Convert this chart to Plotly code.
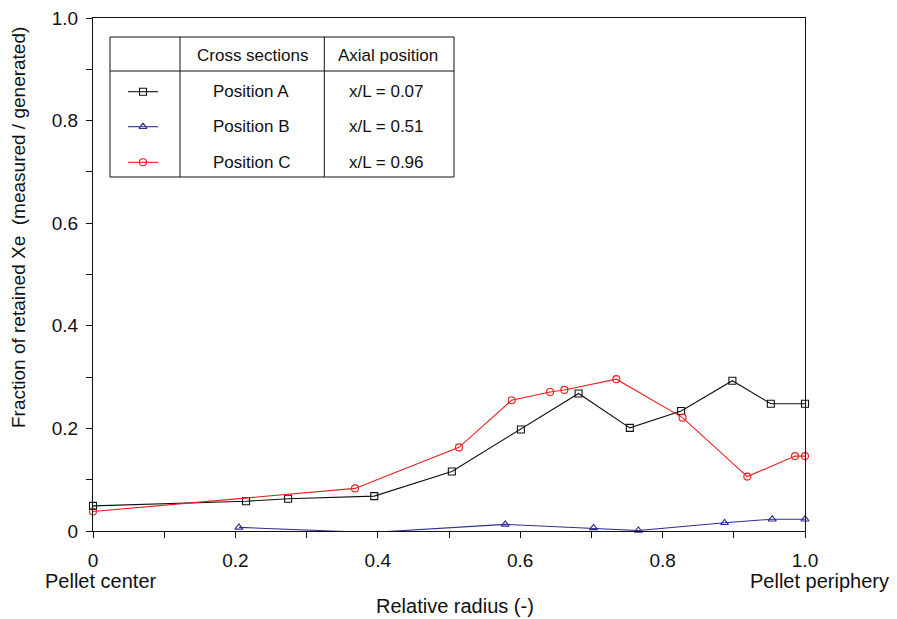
import plotly.graph_objects as go

# ---------------- data ----------------
a_x = [0.0, 0.215, 0.274, 0.395, 0.504, 0.601, 0.682, 0.754, 0.826, 0.898, 0.952, 1.0]
a_y = [0.049, 0.058, 0.063, 0.068, 0.116, 0.198, 0.268, 0.201, 0.234, 0.293, 0.248, 0.248]

b_x = [0.205, 0.39, 0.579, 0.703, 0.766, 0.887, 0.954, 1.0]
b_y = [0.007, -0.003, 0.013, 0.006, 0.001, 0.016, 0.023, 0.023]

c_x = [0.0, 0.368, 0.514, 0.588, 0.642, 0.662, 0.735, 0.828, 0.919, 0.986, 1.0]
c_y = [0.038, 0.083, 0.163, 0.255, 0.271, 0.275, 0.296, 0.221, 0.106, 0.146, 0.146]

series_names = ["Position A", "Position B", "Position C"]
axial_positions = ["x/L = 0.07", "x/L = 0.51", "x/L = 0.96"]
table_headers = ["Cross sections", "Axial position"]

x_tickvals = [0, 0.2, 0.4, 0.6, 0.8, 1.0]
x_ticktext = ["0", "0.2", "0.4", "0.6", "0.8", "1.0"]
y_tickvals = [0, 0.2, 0.4, 0.6, 0.8, 1.0]
y_ticktext = ["0", "0.2", "0.4", "0.6", "0.8", "1.0"]

# ---------------- styles ----------------
BLACK = "#111111"
BLUE = "#2e2e96"
RED = "#ee1c1c"
FONT = "Liberation Sans, Arial, sans-serif"
OFF = 8  # page body margin offset
W, H = 897 - OFF, 619 - OFF
# plot area edges in figure pixels (reference pixels minus offset)
L, R, T, B = 93 - OFF, 805 - OFF, 18 - OFF, 531 - OFF


def px(X):
    return (X - OFF - L) / (R - L)


def py(Y):
    return (B - (Y - OFF)) / (B - T)


styles = [
    dict(color=BLACK, symbol="square-open"),
    dict(color=BLUE, symbol="triangle-up-open"),
    dict(color=RED, symbol="circle-open"),
]

fig = go.Figure()

datasets = [(a_x, a_y), (b_x, b_y), (c_x, c_y)]
for (xs, ys), st, name in zip(datasets, styles, series_names):
    fig.add_trace(go.Scatter(
        x=xs, y=ys, mode="lines+markers", name=name,
        line=dict(color=st["color"], width=1.1),
        marker=dict(symbol=st["symbol"], size=7, color=st["color"],
                    line=dict(width=1.1, color=st["color"]),
                    opacity=[0 if v < 0 else 1 for v in ys]),
        cliponaxis=False, showlegend=False,
    ))

# legend samples on a paper overlay axis
row_y = [91.7, 126.7, 162.3]
for st, yy in zip(styles, row_y):
    fig.add_trace(go.Scatter(
        x=[px(128), px(158)], y=[py(yy), py(yy)], mode="lines",
        xaxis="x2", yaxis="y2", line=dict(color=st["color"], width=1.1),
        cliponaxis=False, showlegend=False, hoverinfo="skip",
    ))
    fig.add_trace(go.Scatter(
        x=[px(143)], y=[py(yy)], mode="markers",
        xaxis="x2", yaxis="y2",
        marker=dict(symbol=st["symbol"], size=7, color=st["color"],
                    line=dict(width=1.1, color=st["color"])),
        cliponaxis=False, showlegend=False, hoverinfo="skip",
    ))

# table lines
shapes = []
tx0, tx1, ty0, ty1 = 110, 454, 37, 177
shapes.append(dict(type="rect", xref="paper", yref="paper",
                   x0=px(tx0), x1=px(tx1), y0=py(ty1), y1=py(ty0),
                   line=dict(color=BLACK, width=1), fillcolor="white", layer="below"))
shapes.append(dict(type="line", xref="paper", yref="paper",
                   x0=px(tx0), x1=px(tx1), y0=py(71), y1=py(71),
                   line=dict(color=BLACK, width=1)))
for cx in [180, 324.3]:
    shapes.append(dict(type="line", xref="paper", yref="paper",
                       x0=px(cx), x1=px(cx), y0=py(ty1), y1=py(ty0),
                       line=dict(color=BLACK, width=1)))

annotations = []
tf = dict(family=FONT, size=17, color=BLACK)
annotations.append(dict(text=table_headers[0], x=px(252), y=py(55), xref="paper", yref="paper",
                        showarrow=False, xanchor="center", yanchor="middle", font=tf))
annotations.append(dict(text=table_headers[1], x=px(388), y=py(55), xref="paper", yref="paper",
                        showarrow=False, xanchor="center", yanchor="middle", font=tf))
for name, ax, yy in zip(series_names, axial_positions, row_y):
    annotations.append(dict(text=name, x=px(251), y=py(yy), xref="paper", yref="paper",
                            showarrow=False, xanchor="center", yanchor="middle", font=tf))
    annotations.append(dict(text=ax, x=px(386), y=py(yy), xref="paper", yref="paper",
                            showarrow=False, xanchor="center", yanchor="middle", font=tf))

lf = dict(family=FONT, size=20, color=BLACK)
annotations.append(dict(text="Pellet center", x=px(101), y=py(581), xref="paper", yref="paper",
                        showarrow=False, xanchor="center", yanchor="middle", font=lf))
annotations.append(dict(text="Pellet periphery", x=px(820), y=py(581), xref="paper", yref="paper",
                        showarrow=False, xanchor="center", yanchor="middle", font=lf))
annotations.append(dict(text="Relative radius (-)", x=px(455), y=py(606), xref="paper", yref="paper",
                        showarrow=False, xanchor="center", yanchor="middle", font=lf))
annotations.append(dict(text="Fraction of retained Xe\u00a0\u00a0(measured / generated)",
                        x=px(18), y=py(228), xref="paper", yref="paper", textangle=-90,
                        showarrow=False, xanchor="center", yanchor="middle",
                        font=dict(family=FONT, size=19, color=BLACK)))

fig.update_layout(
    template="none",
    width=W, height=H,
    margin=dict(l=L, r=W - R, t=T, b=H - B, pad=0, autoexpand=False),
    paper_bgcolor="white", plot_bgcolor="white",
    font=dict(family=FONT, color=BLACK),
    shapes=shapes, annotations=annotations,
    xaxis=dict(range=[0, 1], showgrid=False, zeroline=False, showline=True, mirror=True,
               automargin=False, ticklabeloverflow="allow",
               linecolor=BLACK, linewidth=1.2,
               tickvals=x_tickvals, ticktext=x_ticktext, ticks="outside", ticklen=6,
               tickwidth=1, tickcolor=BLACK, tickfont=dict(size=19, family=FONT, color=BLACK),
               ticklabelstandoff=6,
               minor=dict(dtick=0.1, tick0=0, ticks="outside", ticklen=6, tickwidth=1,
                          tickcolor=BLACK, showgrid=False)),
    yaxis=dict(range=[0, 1], showgrid=False, zeroline=False, showline=True, mirror=True,
               automargin=False, ticklabeloverflow="allow",
               linecolor=BLACK, linewidth=1.2,
               tickvals=y_tickvals, ticktext=y_ticktext, ticks="outside", ticklen=6,
               tickwidth=1, tickcolor=BLACK, tickfont=dict(size=19, family=FONT, color=BLACK),
               ticklabelstandoff=4,
               minor=dict(dtick=0.1, tick0=0, ticks="outside", ticklen=6, tickwidth=1,
                          tickcolor=BLACK, showgrid=False)),
    xaxis2=dict(range=[0, 1], overlaying="x", visible=False, fixedrange=True),
    yaxis2=dict(range=[0, 1], overlaying="y", visible=False, fixedrange=True),
)

fig.write_html("out.html")
